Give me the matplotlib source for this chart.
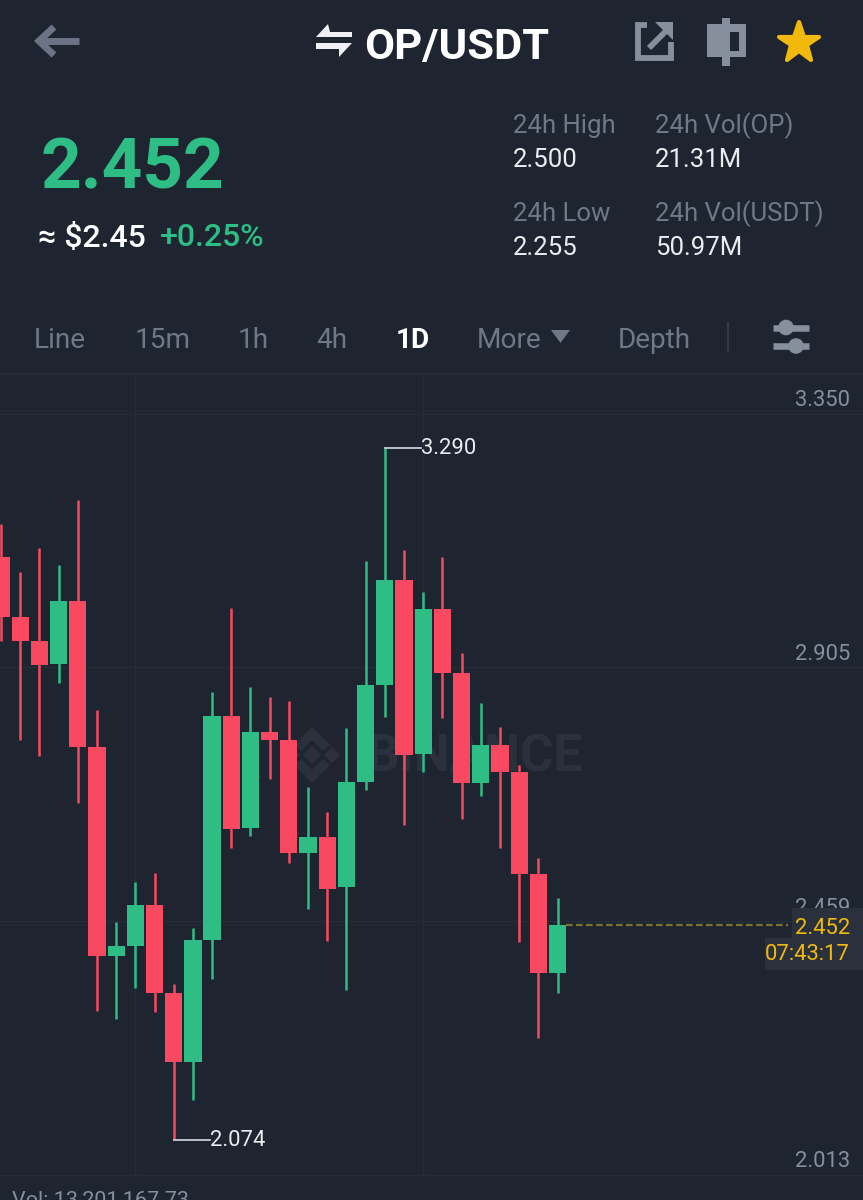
import matplotlib
matplotlib.use("Agg")
import matplotlib.pyplot as plt
from matplotlib.markers import MarkerStyle
from matplotlib.patches import Circle, Polygon, Rectangle

BG = "#1e2530"
GRID = "#272d37"
GREEN = "#2ebd85"
RED = "#f84960"
GOLD = "#f0b90b"
GREY = "#868f9d"
DIM = "#6f7886"
WHITE = "#eaecef"
MARK = "#2a313c"

opens = [3.099, 2.993, 2.951, 2.911, 3.021, 2.765, 2.398, 2.415, 2.487, 2.333,
         2.212, 2.426, 2.819, 2.623, 2.791, 2.777, 2.579, 2.607, 2.519, 2.704,
         2.874, 3.058, 2.753, 3.007, 2.895, 2.702, 2.768, 2.721, 2.542, 2.368]
highs = [3.157, 3.072, 3.115, 3.085, 3.199, 2.830, 2.457, 2.528, 2.544, 2.349,
         2.447, 2.862, 3.009, 2.870, 2.853, 2.846, 2.695, 2.651, 2.798, 3.092,
         3.290, 3.111, 3.037, 3.099, 2.930, 2.842, 2.800, 2.733, 2.570, 2.500]
lows = [2.951, 2.777, 2.749, 2.877, 2.667, 2.301, 2.287, 2.342, 2.299, 2.074,
        2.145, 2.357, 2.588, 2.609, 2.709, 2.561, 2.480, 2.424, 2.338, 2.689,
        2.818, 2.628, 2.721, 2.816, 2.638, 2.679, 2.588, 2.422, 2.254, 2.333]
closes = [2.993, 2.951, 2.909, 3.021, 2.765, 2.398, 2.415, 2.487, 2.333, 2.212,
          2.426, 2.819, 2.621, 2.791, 2.777, 2.579, 2.607, 2.516, 2.704, 2.874,
          3.058, 2.751, 3.007, 2.895, 2.702, 2.768, 2.721, 2.542, 2.368, 2.452]

price_ticks = [3.350, 2.905, 2.459, 2.013]
grid_candles = [7, 22]
last_price = 2.452
countdown = "07:43:17"

stat_labels = ["24h High", "24h Vol(OP)", "24h Low", "24h Vol(USDT)"]
stat_values = ["2.500", "21.31M", "2.255", "50.97M"]
tabs = ["Line", "15m", "1h", "4h", "1D", "More", "Depth"]

W, H = 863, 1200
CHART_TOP = 375
SPACING = 19.19
FIRST_X = 1.0
# gridline pixels: 3.350 at y=414, 2.013 at y=1175
PER_PX = (3.350 - 2.013) / (1175 - 414)


def px(size):
    return size * 0.72


fig = plt.figure(figsize=(W / 100, H / 100), dpi=100, facecolor=BG)
plt.rcParams["font.family"] = ["Roboto", "DejaVu Sans"]

# watermark goes under the candles, the header and price box above them
back = fig.add_axes([0, 0, 1, 1], zorder=0)
ax = fig.add_axes([0, 0, 1, (H - CHART_TOP) / H], zorder=1)
ui = fig.add_axes([0, 0, 1, 1], zorder=2)
for a in (back, ui):
    a.set_xlim(0, W)
    a.set_ylim(H, 0)
    a.axis("off")
back.set_facecolor(BG)

# watermark
for pts in [
    [(312, 746), (321, 755), (312, 764), (303, 755)],
    [(292, 747), (300, 755), (292, 763), (284, 755)],
    [(332, 747), (340, 755), (332, 763), (324, 755)],
    [(312, 727), (330, 745), (323, 751), (312, 740), (301, 751), (294, 745)],
    [(312, 783), (330, 765), (323, 759), (312, 770), (301, 759), (294, 765)],
]:
    back.add_patch(Polygon(pts, closed=True, color=MARK, lw=0))
back.text(367, 757, "BINANCE", color=MARK, fontsize=px(51), fontweight="bold", va="center")

# candles
ax.set_xlim(-FIRST_X / SPACING, (W - FIRST_X) / SPACING)
ax.set_ylim(2.013 - (H - 1175) * PER_PX, 3.350 + (414 - CHART_TOP) * PER_PX)
ax.axis("off")
ax.patch.set_alpha(0)

for p in price_ticks:
    ax.axhline(p, color=GRID, lw=1, zorder=1)
    ax.annotate(f"{p:.3f}", xy=(1, p), xycoords=("axes fraction", "data"),
                xytext=(-9.4, 9.4), textcoords="offset points", ha="right", va="center",
                color=GREY, fontsize=px(22))
ax.vlines(grid_candles, price_ticks[-1], ax.get_ylim()[1], color=GRID, lw=1, zorder=1)

idx = list(range(len(opens)))
colors = [GREEN if c >= o else RED for o, c in zip(opens, closes)]
ax.vlines(idx, lows, highs, color=colors, lw=1.8, zorder=2)
ax.bar(idx, [abs(c - o) for o, c in zip(opens, closes)],
       bottom=[min(o, c) for o, c in zip(opens, closes)],
       width=17.2 / SPACING, color=colors, lw=0, zorder=3)

# high / low callouts
i_hi = highs.index(max(highs))
i_lo = lows.index(min(lows))
for i, p in [(i_hi, highs[i_hi]), (i_lo, lows[i_lo])]:
    ax.plot([i, i + 36.5 / SPACING], [p, p], color="#c8ccd2", lw=1.3, zorder=4)
    ax.text(i + 36.5 / SPACING, p, f"{p:.3f}", color=WHITE, fontsize=px(22), va="center", zorder=4)

# last price line and box
i_last = len(opens) - 1
ax.plot([i_last + 0.45, 41], [last_price, last_price], color="#7a7030", lw=1.6,
        dashes=(3, 1.5), zorder=2)
ui.add_patch(Rectangle((792, 908), 71, 31, color="#2a313d", lw=0))
ui.add_patch(Rectangle((765, 938), 98, 32, color="#2a313d", lw=0))
ui.text(850, 928, f"{last_price:.3f}", color=GOLD, fontsize=px(22), ha="right", va="center")
ui.text(850, 955, countdown, color=GOLD, fontsize=px(22), ha="right", va="center")

ui.text(12, 1200, "Vol: 13,201,167.73", color=GREY, fontsize=px(21.5), va="center")

# header
ui.plot([79, 39], [41, 41], color="#6b7484", lw=5, solid_capstyle="butt")
ui.plot([54, 39, 54], [27, 41, 55], color="#6b7484", lw=5, solid_joinstyle="miter", solid_capstyle="butt")

ui.add_patch(Polygon([(316, 37), (328, 24), (330, 32), (352, 32), (352, 37)], color="#eef0f3", lw=0))
ui.add_patch(Polygon([(316, 43), (352, 43), (339, 57), (339, 49), (316, 49)], color="#eef0f3", lw=0))
ui.text(364, 48, "OP/USDT", color="white", fontsize=px(43.5), fontweight="bold", va="center")

ui.plot([647, 638, 638, 670.5, 670.5], [25, 25, 58, 58, 42], color=GREY, lw=4.2,
        solid_joinstyle="miter", solid_capstyle="butt")
ui.plot([649, 667], [48, 30], color=GREY, lw=4.2, solid_capstyle="butt")
ui.add_patch(Polygon([(655, 22), (673, 22), (673, 40)], color=GREY, lw=0))

ui.add_patch(Rectangle((707, 24), 39, 33, color=GREY, lw=0))
ui.add_patch(Rectangle((722, 18), 8, 48, color=GREY, lw=0))
ui.add_patch(Rectangle((730, 32), 9, 19, color=BG, lw=0))
ui.plot([798.5], [43], marker=MarkerStyle("*", joinstyle="round"), markersize=30,
        color=GOLD, mec=GOLD, mew=3, ls="none")

ui.text(40, 169, "2.452", color=GREEN, fontsize=px(71), fontweight="bold", va="center")
ui.text(38, 238, "≈ $2.45", color="white", fontsize=px(32), fontweight="medium", va="center")
ui.text(160, 238, "+0.25%", color=GREEN, fontsize=px(32), fontweight="medium", va="center")

stat_pos = [(513, 126), (655, 126), (513, 214), (655, 214)]
for (x, y), label, value in zip(stat_pos, stat_labels, stat_values):
    ui.text(x, y, label, color=DIM, fontsize=px(25.7), va="center")
    ui.text(x, y + 34, value, color=WHITE, fontsize=px(25.7), va="center")

# tabs
tab_x = [34, 135, 238, 316, 396, 477, 618]
for x, t in zip(tab_x, tabs):
    on = t == "1D"
    ui.text(x, 341, t, color="white" if on else DIM, fontsize=px(28),
            fontweight="bold" if on else "normal", va="center")
ui.add_patch(Polygon([(551, 330), (570, 330), (560.5, 343)], color=DIM, lw=0))
ui.plot([728, 728], [323, 351], color="#343b46", lw=1.4)
for y, kx in [(327.5, 786), (346, 796)]:
    ui.plot([773, 809], [y, y], color=GREY, lw=4.7, solid_capstyle="butt")
    ui.add_patch(Circle((kx, y), 7.8, color=GREY, lw=0))
ui.plot([0, W], [374, 374], color=GRID, lw=1.5)

fig.savefig("out.png", dpi=100, facecolor=BG)
